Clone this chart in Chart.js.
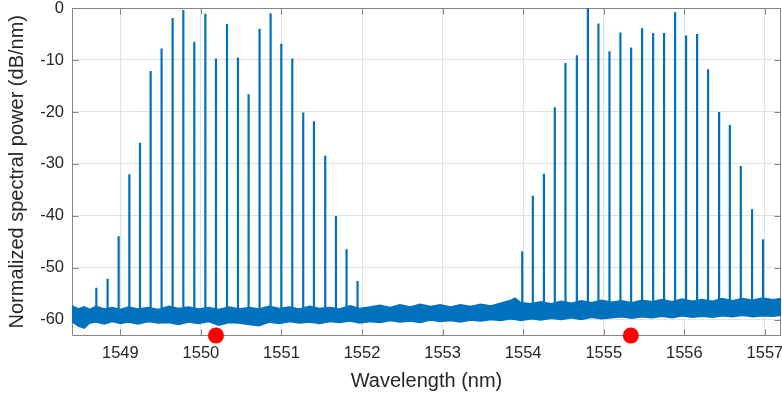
<!DOCTYPE html>
<html>
<head>
<meta charset="utf-8">
<script src="https://cdn.jsdelivr.net/npm/chart.js@4.4.0/dist/chart.umd.min.js"></script>
<style>
  html, body { margin: 0; padding: 0; background: #fff; overflow: hidden; }
  #wrap { width: 782px; height: 395px; }
  canvas { display: block; }
</style>
</head>
<body>
<div id="wrap"><canvas id="spectrum" width="782" height="395"></canvas></div>
<script>
// axis ticks
const xTicks = [1549, 1550, 1551, 1552, 1553, 1554, 1555, 1556, 1557];
const yTicks = [-60, -50, -40, -30, -20, -10, 0];

// comb lines (nm, dB/nm)
const leftCombWl = [1548.702, 1548.842, 1548.979, 1549.112, 1549.244, 1549.376, 1549.512, 1549.649,
  1549.782, 1549.918, 1550.055, 1550.187, 1550.324, 1550.460, 1550.592, 1550.728, 1550.865,
  1550.998, 1551.134, 1551.270, 1551.403, 1551.543, 1551.676, 1551.808, 1551.944];
const leftCombPeak = [-53.8, -52.1, -43.9, -32.0, -25.9, -12.1, -7.8, -1.9,
  -0.4, -6.5, -1.1, -9.7, -3.1, -9.5, -16.6, -4.0, -1.0,
  -6.9, -9.7, -20.1, -21.8, -28.4, -40.0, -46.4, -52.5];

const rightCombWl = [1553.988, 1554.120, 1554.257, 1554.393, 1554.525, 1554.666, 1554.803, 1554.934,
  1555.071, 1555.207, 1555.340, 1555.476, 1555.613, 1555.749, 1555.886, 1556.022, 1556.159,
  1556.295, 1556.432, 1556.565, 1556.701, 1556.841, 1556.978];
const rightCombPeak = [-46.8, -36.1, -31.9, -19.1, -10.6, -9.1, 0.0, -3.0,
  -8.3, -4.7, -7.6, -3.9, -4.8, -4.8, -0.8, -5.3, -5.0,
  -11.8, -20.0, -22.5, -30.4, -38.7, -44.5];
const peakBase = -58.5;

// noise floor envelope
const floorWl = [1548.40, 1548.48, 1548.55, 1548.62, 1548.70, 1548.80, 1548.90, 1549.00, 1549.10,
  1549.22, 1549.35, 1549.47, 1549.60, 1549.72, 1549.85, 1549.97, 1550.10, 1550.22, 1550.35,
  1550.47, 1550.60, 1550.72, 1550.85, 1550.97, 1551.10, 1551.22, 1551.35, 1551.47, 1551.60,
  1551.72, 1551.85, 1551.97, 1552.10, 1552.22, 1552.35, 1552.47, 1552.60, 1552.72, 1552.85,
  1552.97, 1553.10, 1553.22, 1553.35, 1553.47, 1553.60, 1553.72, 1553.85, 1553.90, 1553.97,
  1554.10, 1554.22, 1554.35, 1554.47, 1554.60, 1554.72, 1554.85, 1554.97, 1555.10, 1555.22,
  1555.35, 1555.47, 1555.60, 1555.72, 1555.85, 1555.97, 1556.10, 1556.22, 1556.35, 1556.47,
  1556.60, 1556.72, 1556.85, 1556.97, 1557.10, 1557.20];
const floorHi = [-57.3, -57.9, -57.5, -58.0, -57.4, -57.9, -57.6, -58.0, -57.5,
  -57.9, -57.6, -58.0, -57.4, -57.8, -57.5, -57.9, -57.6, -58.0, -57.5,
  -57.9, -57.6, -57.9, -57.4, -57.8, -57.5, -57.9, -57.4, -57.8, -57.6,
  -57.9, -57.3, -57.8, -57.5, -57.2, -57.6, -57.1, -57.5, -57.0, -57.4,
  -57.1, -57.5, -57.1, -57.4, -57.0, -57.3, -56.8, -56.2, -55.8, -56.7,
  -56.9, -56.5, -56.9, -56.4, -56.8, -56.3, -56.7, -56.2, -56.6, -56.3,
  -56.7, -56.2, -56.5, -56.1, -56.5, -56.0, -56.4, -56.1, -56.4, -55.9,
  -56.3, -55.9, -56.2, -55.8, -56.1, -55.9];
const floorLo = [-60.3, -61.2, -61.6, -60.6, -60.4, -60.8, -60.3, -60.7, -60.4,
  -60.8, -60.3, -60.6, -60.5, -60.9, -60.4, -60.7, -60.3, -61.0, -60.5,
  -60.6, -60.9, -61.1, -60.4, -60.7, -60.3, -60.6, -60.4, -60.7, -60.3,
  -60.5, -60.2, -60.6, -60.3, -60.5, -60.1, -60.4, -60.2, -60.5, -60.0,
  -60.3, -60.1, -60.4, -60.0, -60.2, -59.9, -60.1, -59.8, -59.9, -60.1,
  -59.8, -60.0, -59.7, -59.9, -59.6, -59.9, -59.5, -59.8, -59.6, -59.4,
  -59.7, -59.4, -59.6, -59.3, -59.6, -59.2, -59.5, -59.3, -59.5, -59.2,
  -59.4, -59.1, -59.4, -59.2, -59.3, -59.1];

// red markers
const markerWl = [1550.187, 1555.336];
const markerLevel = [-63, -63];

const blue = '#0072BD';
const axisColor = '#858585';
const gridColor = '#e2e2e2';
const textColor = '#262626';
const fontFamily = "'Liberation Sans', Arial, Helvetica, sans-serif";

function combPoints(wl, peak) {
  const pts = [];
  wl.forEach((w, i) => {
    pts.push({ x: w, y: peakBase }, { x: w, y: peak[i] }, { x: w, y: peakBase });
  });
  return pts;
}

function noPad(s) {
  s.paddingLeft = 0; s.paddingRight = 0; s.paddingTop = 0; s.paddingBottom = 0;
}

// let the plot box run to the right edge like the original figure
const stretchPlugin = {
  id: 'stretch',
  afterLayout(chart) {
    const a = chart.chartArea, x = chart.scales.x;
    a.right = chart.width - 1;
    a.width = a.right - a.left;
    x.right = a.right;
    x.width = a.width;
    x.configure();
    x._labelItems = null; x._gridLineItems = null;
    chart.scales.y._gridLineItems = null;
  }
};

const framePlugin = {
  id: 'frame',
  beforeDatasetsDraw(chart) {
    const { ctx, chartArea: a, scales: { x, y } } = chart;
    const L = Math.round(a.left) + 0.5, R = Math.round(a.right) - 0.5;
    const T = Math.round(a.top) + 0.5, B = Math.round(a.bottom) - 0.5;
    ctx.save();
    ctx.strokeStyle = axisColor;
    ctx.lineWidth = 1;
    ctx.beginPath();
    ctx.moveTo(L, T); ctx.lineTo(R, T); ctx.lineTo(R, B); ctx.lineTo(L, B); ctx.closePath();
    const tl = 6;
    xTicks.forEach(v => {
      const px = Math.round(x.getPixelForValue(v)) + 0.5;
      ctx.moveTo(px, B); ctx.lineTo(px, B - tl);
      ctx.moveTo(px, T); ctx.lineTo(px, T + tl);
    });
    yTicks.forEach(v => {
      const py = Math.round(y.getPixelForValue(v)) + 0.5;
      ctx.moveTo(L, py); ctx.lineTo(L + tl, py);
      ctx.moveTo(R, py); ctx.lineTo(R - tl, py);
    });
    ctx.stroke();
    ctx.restore();
  }
};

new Chart(document.getElementById('spectrum').getContext('2d'), {
  type: 'line',
  data: {
    datasets: [
      {
        data: floorWl.map((w, i) => ({ x: w, y: floorLo[i] })),
        borderColor: blue, borderWidth: 1.5, pointRadius: 0, fill: false, tension: 0
      },
      {
        data: floorWl.map((w, i) => ({ x: w, y: floorHi[i] })),
        borderColor: blue, borderWidth: 1.5, backgroundColor: blue, pointRadius: 0, fill: '-1', tension: 0
      },
      {
        data: combPoints(leftCombWl, leftCombPeak),
        borderColor: blue, borderWidth: 2.2, pointRadius: 0, fill: false, tension: 0
      },
      {
        data: combPoints(rightCombWl, rightCombPeak),
        borderColor: blue, borderWidth: 2.2, pointRadius: 0, fill: false, tension: 0
      },
      {
        type: 'scatter',
        data: markerWl.map((w, i) => ({ x: w, y: markerLevel[i] })),
        backgroundColor: '#ff0000', borderColor: '#ff0000', borderWidth: 0,
        pointRadius: 8, clip: false
      }
    ]
  },
  options: {
    responsive: false,
    animation: false,
    layout: { padding: { top: 5, right: 1, left: 0, bottom: 0 } },
    plugins: { legend: { display: false }, tooltip: { enabled: false } },
    scales: {
      x: {
        type: 'linear', min: 1548.4, max: 1557.2,
        afterBuildTicks: s => { s.ticks = xTicks.map(v => ({ value: v })); },
        afterFit: s => { s.height = 59.5; noPad(s); },
        grid: { color: gridColor, drawTicks: false },
        border: { display: false },
        ticks: { color: textColor, padding: 8, font: { family: fontFamily, size: 16.5 }, maxRotation: 0,
          callback: v => String(v) },
        title: { display: true, text: 'Wavelength (nm)', color: textColor,
          font: { family: fontFamily, size: 20 }, padding: { top: 0, bottom: 2 } }
      },
      y: {
        type: 'linear', min: -63, max: 0,
        afterBuildTicks: s => { s.ticks = yTicks.map(v => ({ value: v })); },
        afterFit: s => { s.width = 72; noPad(s); },
        grid: { color: gridColor, drawTicks: false },
        border: { display: false },
        ticks: { color: textColor, padding: 8, font: { family: fontFamily, size: 16.5 } },
        title: { display: true, text: 'Normalized spectral power (dB/nm)', color: textColor,
          font: { family: fontFamily, size: 20 }, padding: { top: 5, bottom: 0 } }
      }
    }
  },
  plugins: [stretchPlugin, framePlugin]
});
</script>
</body>
</html>
